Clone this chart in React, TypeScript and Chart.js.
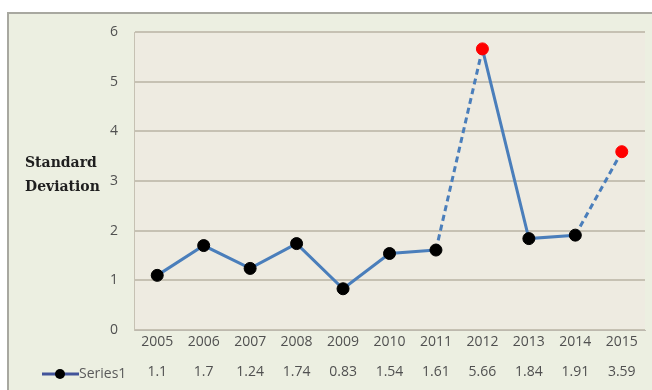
import React, { useEffect, useRef } from "react";
import { Chart, registerables } from "chart.js";

Chart.register(...registerables);

const years = ["2005", "2006", "2007", "2008", "2009", "2010", "2011", "2012", "2013", "2014", "2015"];
const values = [1.1, 1.7, 1.24, 1.74, 0.83, 1.54, 1.61, 5.66, 1.84, 1.91, 3.59];
const valueLabels = ["1.1", "1.7", "1.24", "1.74", "0.83", "1.54", "1.61", "5.66", "1.84", "1.91", "3.59"];
const dashedInto = [7, 10]; // segments ending at these indexes are dashed
const redPoints = [7, 10];
const seriesName = "Series1";
const yTitle = ["Standard", "Deviation"];
const yTicks = [0, 1, 2, 3, 4, 5, 6];

const LINE = "#4A7EBB";
const TICK_FONT = "'Open Sans', sans-serif";

export default function App() {
  const ref = useRef<HTMLCanvasElement | null>(null);
  useEffect(() => {
    const canvas = ref.current!;
    const deco = {
      id: "deco",
      beforeDraw(chart: any) {
        const { ctx, chartArea: a } = chart;
        ctx.save();
        ctx.fillStyle = "#ffffff";
        ctx.fillRect(0, 0, chart.width, chart.height);
        ctx.fillStyle = "#ECEFE1";
        ctx.fillRect(7, 12, 645, 378);
        ctx.strokeStyle = "#A8A8A0";
        ctx.lineWidth = 2;
        ctx.beginPath();
        ctx.moveTo(8, 392);
        ctx.lineTo(8, 13);
        ctx.lineTo(652, 13);
        ctx.stroke();
        ctx.fillStyle = "#EEEBE1";
        ctx.fillRect(a.left, a.top, a.right - a.left, a.bottom - a.top);
        ctx.restore();
      },
      afterDraw(chart: any) {
        const { ctx } = chart;
        const x2 = chart.scales.x2;
        const y = x2.top + 17;
        ctx.save();
        ctx.strokeStyle = "#42549A";
        ctx.lineWidth = 3;
        ctx.beginPath();
        ctx.moveTo(42, y);
        ctx.lineTo(79, y);
        ctx.stroke();
        ctx.fillStyle = "#000";
        ctx.beginPath();
        ctx.arc(60, y, 5, 0, Math.PI * 2);
        ctx.fill();
        ctx.fillStyle = "#5A5A5A";
        ctx.font = "14px " + TICK_FONT;
        ctx.textBaseline = "middle";
        ctx.textAlign = "left";
        ctx.fillText(seriesName, 79, y);
        ctx.fillStyle = "#1F1F1F";
        ctx.font = "bold 14px 'DejaVu Serif', serif";
        ctx.textBaseline = "middle";
        ctx.fillText(yTitle[0], 25, 163);
        ctx.fillText(yTitle[1], 25, 187);
        ctx.restore();
      },
    };
    const chart = new Chart(canvas, {
      type: "line",
      data: {
        labels: years,
        datasets: [
          {
            label: seriesName,
            data: values,
            xAxisID: "x",
            yAxisID: "y",
            borderColor: LINE,
            borderWidth: 3,
            pointRadius: 6,
            pointHoverRadius: 6,
            pointBackgroundColor: values.map((_, i) => (redPoints.includes(i) ? "#FF0000" : "#000000")),
            pointBorderColor: values.map((_, i) => (redPoints.includes(i) ? "#FF0000" : "#000000")),
            pointBorderWidth: 1,
            tension: 0,
            segment: {
              borderDash: (c: any) => (dashedInto.includes(c.p1DataIndex) ? [6, 4] : undefined),
            },
          },
        ],
      },
      options: {
        responsive: false,
        animation: false,
        devicePixelRatio: 1,
        layout: { padding: { left: 0, right: 7, top: 32, bottom: 5 } },
        plugins: { legend: { display: false }, tooltip: { enabled: false } },
        scales: {
          x: {
            type: "category",
            position: "bottom",
            offset: true,
            grid: { display: false, drawTicks: false },
            border: { display: true, color: "#BDB9AE", width: 1 },
            ticks: { color: "#505050", font: { family: TICK_FONT, size: 14 }, padding: 4, maxRotation: 0, autoSkip: false },
            afterFit: (s: any) => { s.height = 27; },
          },
          x2: {
            type: "category",
            position: "bottom",
            offset: true,
            labels: valueLabels,
            grid: { display: false, drawTicks: false },
            border: { display: false },
            ticks: { color: "#505050", font: { family: TICK_FONT, size: 14 }, padding: 7, maxRotation: 0, autoSkip: false },
            afterFit: (s: any) => { s.height = 28; },
          },
          y: {
            min: 0,
            max: 6,
            afterBuildTicks: (s: any) => { s.ticks = yTicks.map((v) => ({ value: v })); },
            grid: { color: "#C6C1B3", lineWidth: 2, drawTicks: false },
            border: { display: true, color: "#C6C1B3", width: 1 },
            ticks: { color: "#505050", font: { family: TICK_FONT, size: 14 }, padding: 16 },
            afterFit: (s: any) => { s.width = 134; },
          },
        },
      },
      plugins: [deco],
    });
    return () => chart.destroy();
  }, []);
  return (
    <div style={{ position: "fixed", left: 0, top: 0, width: 652, height: 390, background: "#fff" }}>
      <canvas ref={ref} width={652} height={390} style={{ display: "block" }} />
    </div>
  );
}
